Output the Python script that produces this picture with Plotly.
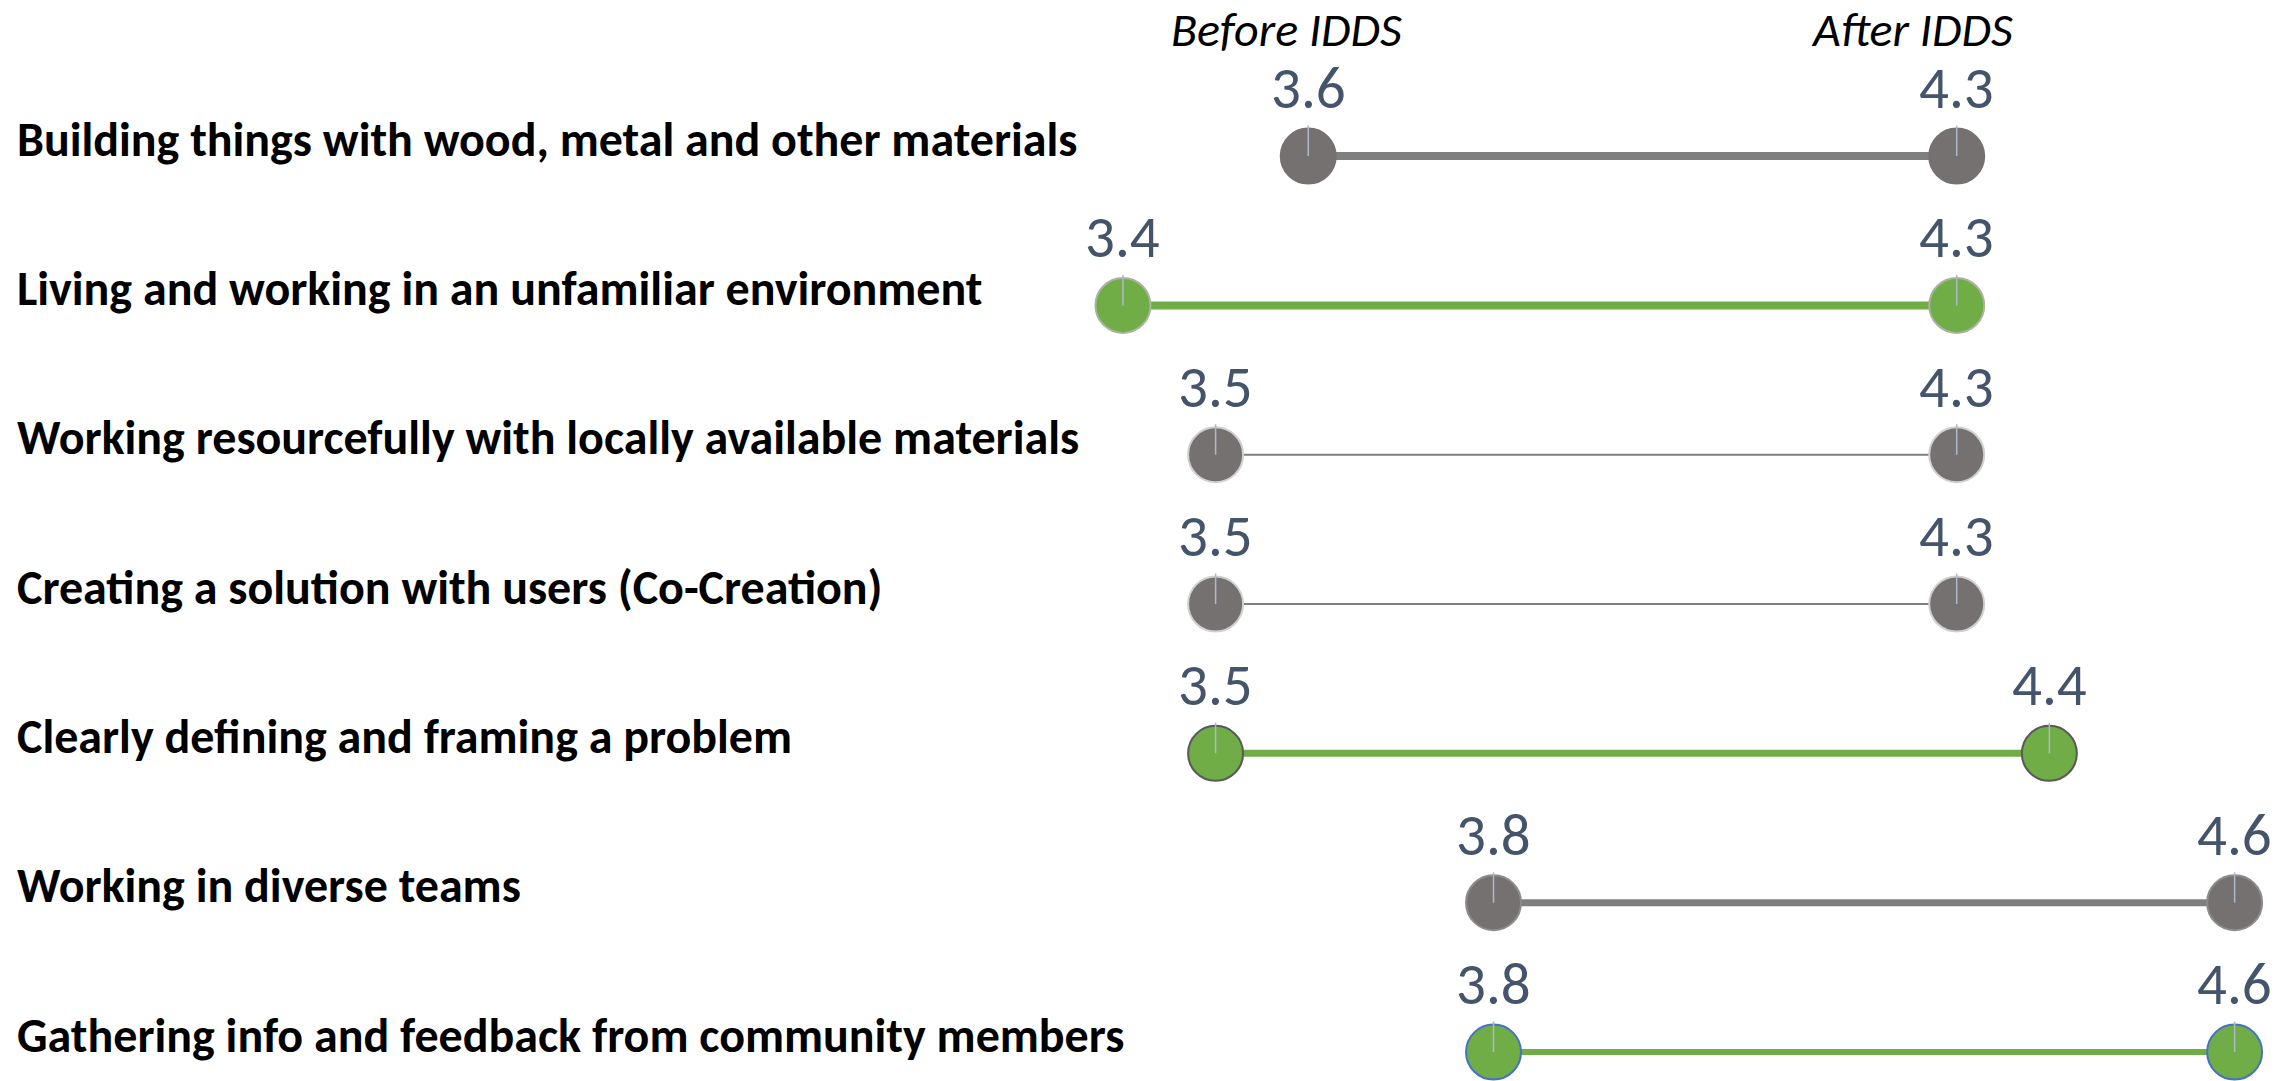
import plotly.graph_objects as go

# ---- data ----
skills = [
    "Building things with wood, metal and other materials",
    "Living and working in an unfamiliar environment",
    "Working resourcefully with locally available materials",
    "Creating a solution with users (Co-Creation)",
    "Clearly defining and framing a problem",
    "Working in diverse teams",
    "Gathering info and feedback from community members",
]
before_idds = [3.6, 3.4, 3.5, 3.5, 3.5, 3.8, 3.8]
after_idds = [4.3, 4.3, 4.3, 4.3, 4.4, 4.6, 4.6]
header_labels = ["Before IDDS", "After IDDS"]

# ---- styles ----
GRAY_M = "#767171"
GRAY_L = "#7F7F7F"
GREEN = "#70AD47"
row_marker_colors = [GRAY_M, GREEN, GRAY_M, GRAY_M, GREEN, GRAY_M, GREEN]
row_line_colors = [GRAY_L, GREEN, GRAY_L, GRAY_L, GREEN, GRAY_L, GREEN]
row_line_widths = [8, 8, 2, 2, 7, 7, 6]
row_border_colors = [GRAY_M, "#A9B3A0", "#D0D0D0", "#D0D0D0", "#595959", "#8C8C8C", "#4472C4"]
header_xshifts = [-22, -45]

LABEL_FONT = "Carlito, Calibri, 'Liberation Sans Narrow', 'Open Sans', sans-serif"
NUM_FONT = "Carlito, Calibri, 'Liberation Sans Narrow', 'Open Sans', sans-serif"

fig = go.Figure()

for i, s in enumerate(skills):
    fig.add_trace(go.Scatter(
        x=[before_idds[i], after_idds[i]],
        y=[s, s],
        mode="lines+markers",
        line=dict(color=row_line_colors[i], width=row_line_widths[i]),
        marker=dict(size=55, color=row_marker_colors[i],
                    line=dict(color=row_border_colors[i], width=2)),
        cliponaxis=False,
        hoverinfo="skip",
        showlegend=False,
    ))

annotations = []
# category labels
for s in skills:
    annotations.append(dict(
        x=0.0065, xref="paper", y=s, yref="y", yshift=17,
        text="<b>" + s + "</b>", showarrow=False, xanchor="left", yanchor="middle",
        font=dict(family=LABEL_FONT, size=48, color="#000000"),
    ))
# value labels with leader lines
for s, b, a in zip(skills, before_idds, after_idds):
    for v in (b, a):
        annotations.append(dict(
            x=v, xref="x", y=s, yref="y",
            text=f"{v:.1f}", showarrow=True, arrowhead=0, arrowwidth=1.5,
            arrowcolor="#ADB9CA", ax=0, ay=-68, standoff=0,
            font=dict(family=NUM_FONT, size=59, color="#44546A"),
        ))
# column headers
for lbl, v, xs in zip(header_labels, (before_idds[0], after_idds[0]), header_xshifts):
    annotations.append(dict(
        x=v, xref="x", xshift=xs, y=1 - 30 / 1081, yref="paper",
        text="<i>" + lbl + "</i>", showarrow=False, xanchor="center", yanchor="middle",
        font=dict(family=LABEL_FONT, size=48, color="#000000"),
    ))

fig.update_layout(
    width=2284, height=1081,
    margin=dict(l=0, r=0, t=0, b=0),
    paper_bgcolor="white", plot_bgcolor="white",
    xaxis=dict(range=[2.1878, 4.6533], visible=False, fixedrange=True),
    yaxis=dict(type="category", categoryorder="array", categoryarray=skills,
               range=[6.194, -1.045], visible=False, fixedrange=True),
    annotations=annotations,
)

fig.write_html(
    "out.html",
    config={"displayModeBar": False},
    post_script="document.body.style.margin='0';document.body.style.overflow='hidden';",
)
